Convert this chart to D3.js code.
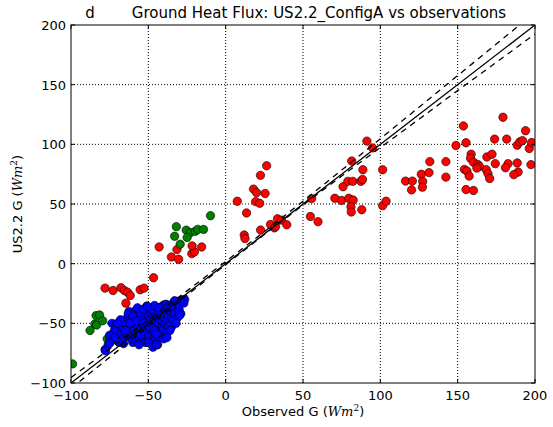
<!DOCTYPE html>
<html>
<head>
<meta charset="utf-8">
<script src="https://cdn.jsdelivr.net/npm/d3@7"></script>
<style>
  html, body { margin: 0; padding: 0; background: #fff; }
  svg { display: block; }
  text { font-family: "DejaVu Sans", sans-serif; fill: #000; }
</style>
</head>
<body>
<div id="chart"></div>
<script>
// values (W m^-2)
const redX = [-78, -72.8, -67.7, -65.5, -63.4, -61.7, -64.5, -55.3, -52.8, -46.6, -43, -35.1, -31.5, -30.4, -21.9, -20.2, -15.5, -21.7,
  7.5, 13.5, 12, 12.5, 18, 20, 22.5, 26.5, 25.5, 19.4, 22, 22.6, 29, 31.5, 33.5, 36.2, 39.5, 32.3, 54.8, 59.7, 55.6,
  70.6, 74.9, 79.6, 82.4, 81, 81.2, 88, 75.9, 79, 82.2, 87.4, 88.5, 88.7, 81.5, 91.3, 95, 101.5, 101.5, 103.7,
  116.3, 120.7, 120.2, 126.5, 127.4, 127.2, 131.5, 132, 142.4, 142.4, 148.9, 153.7, 155.4, 158.7, 158.3, 160.2,
  154.3, 156, 157.4, 155.4, 160.2, 163, 164.1, 162.4, 168.9, 172.2, 168.5, 169.6, 170.7, 173.9, 174.3, 179.3,
  181.7, 182.6, 180.9, 188.5, 190.2, 191.9, 193.9, 188.5, 189.1, 186.3, 196.3, 197.8, 197.4];
const redY = [-20.5, -22.5, -20.2, -22.5, -23.9, -26.7, -33.1, -21.9, -20.5, -11.8, 14, 5.6, 11.8, 3.7, 8.4, 9.8, 14, 14.9,
  52.3, 42.5, 24, 21, 62.5, 59.5, 74, 82, 58.8, 52, 50.6, 28.2, 32.8, 30, 37.6, 36.5, 32.6, 31.1, 39.5, 35.2, 54.5,
  54.8, 53, 54.8, 53.3, 47.7, 43.3, 45.2, 64.5, 69, 69, 69, 70.6, 78.7, 86, 102.7, 97, 78.7, 48.6, 52.3,
  69.2, 69.2, 61.8, 74.9, 68.9, 64.1, 76.3, 85.5, 85.5, 72.5, 99, 115.4, 101.3, 91.7, 88.3, 85,
  79, 77.6, 73.4, 62.1, 61.3, 83.2, 81.5, 80.1, 89.4, 91.7, 78.7, 75.4, 71.4, 104.4, 83.8, 122.7,
  104.4, 83.8, 80.4, 99.3, 102.1, 103.1, 111.4, 84.4, 76.8, 74.6, 96.5, 101.5, 83];

const greenX = [-99, -87.7, -84.6, -83.8, -81.5, -83.4, -79.5, -76.6, -75, -71,
  -31.9, -33, -29.4, -25.5, -22.8, -19.6, -18.1, -14.3, -24.9, -9.8];
const greenY = [-84, -56, -50.6, -43.5, -43, -51.4, -47.8, -63, -62.5, -63.6,
  31, 23, 16.3, 28.1, 26, 27.2, 28.7, 28.7, 22, 40.2];

const blueX = [-78, -74.5, -73.5, -71, -69, -67, -62.5, -58, -55, -51, -45, -41.5, -40, -38.5, -34, -31, -28.5, -26.5,
  -29, -45, -40.5, -48, -55.5, -66, -42, -35, -60, -63, -70, -68, -66, -64, -62, -61, -60, -59, -58, -57, -57, -56,
  -55, -55, -54, -54, -53, -53, -52, -52, -51, -51, -50, -50, -50, -49, -49, -48, -48, -47, -47, -46, -46, -45, -45,
  -44, -44, -43, -43, -42, -42, -41, -41, -40, -40, -39, -39, -38, -38, -37, -37, -36, -36, -35, -34, -34, -33, -32,
  -31, -30, -32, -36, -44, -52, -58, -64, -66, -68, -70, -72, -75, -63, -60, -57, -53, -48, -46, -43, -39, -37, -35,
  -30, -27, -33, -60, -56, -50, -47, -44, -40, -38, -58, -62, -65, -53, -49, -46, -45, -55, -61, -67, -69, -72, -76,
  -77.7, -74.9, -50.6, -44.7, -29.8];
const blueY = [-72, -65, -50, -51.5, -53.5, -55.5, -40, -39, -39.5, -35.5, -38, -36, -34.5, -34, -33, -32, -30.5, -30,
  -42, -67, -58.5, -61, -65.5, -67, -61, -53, -61, -58, -58, -60, -62, -52, -54, -47, -50, -56, -44, -52, -60, -47,
  -55, -43, -50, -58, -46, -62, -53, -41, -48, -57, -44, -51, -60, -47, -55, -42, -50, -57, -45, -52, -62, -48, -44,
  -55, -40, -50, -46, -58, -43, -52, -48, -45, -55, -42, -50, -47, -58, -44, -52, -40, -49, -45, -38, -47, -42, -36,
  -45, -39, -50, -56, -64, -66, -63, -46, -49, -47, -50, -56, -60, -42, -44, -37, -38, -38, -35, -37, -38, -36, -35,
  -35, -33, -31, -66, -68, -66, -70, -68, -63, -62, -48, -50, -56, -50, -53, -56, -59, -60, -63, -64, -66, -62, -68,
  -73, -66.6, -36, -68, -43.5];

// 1:1 line and the dashed band round the fit
const oneToOne = [-100, 200];
const bandX = [-100, -75, -50, -25, 0, 25, 50, 75, 100, 125, 150, 175, 200];
const bandUpper = [-95.5, -71.4, -47.2, -22.8, 1.8, 26.8, 52.4, 78.4, 104.7, 131.1, 157.6, 184.1, 210.5];
const bandLower = [-104.5, -78.4, -52.4, -26.4, -0.8, 24.4, 49.1, 73.4, 97.3, 121.1, 145, 168.7, 192.5];

const xTicks = [-100, -50, 0, 50, 100, 150, 200];
const yTicks = [-100, -50, 0, 50, 100, 150, 200];

const W = 553, H = 427;
const margin = {top: 25, right: 18, bottom: 44, left: 71};
const width = W - margin.left - margin.right;
const height = H - margin.top - margin.bottom;

const svg = d3.select('#chart').append('svg').attr('width', W).attr('height', H);
const g = svg.append('g').attr('transform', `translate(${margin.left},${margin.top})`);

const x = d3.scaleLinear().domain([-100, 200]).range([0, width]);
const y = d3.scaleLinear().domain([-100, 200]).range([height, 0]);

svg.append('defs').append('clipPath').attr('id', 'plotclip')
  .append('rect').attr('width', width).attr('height', height);

// dotted grid
const grid = g.append('g');
grid.selectAll('.gx').data(xTicks.slice(1, -1)).enter().append('line')
  .attr('x1', d => x(d)).attr('x2', d => x(d)).attr('y1', 0).attr('y2', height)
  .attr('stroke', '#000').attr('stroke-width', 1).attr('stroke-dasharray', '1,2');
grid.selectAll('.gy').data(yTicks.slice(1, -1)).enter().append('line')
  .attr('y1', d => y(d)).attr('y2', d => y(d)).attr('x1', 0).attr('x2', width)
  .attr('stroke', '#000').attr('stroke-width', 1).attr('stroke-dasharray', '1,2');

const plot = g.append('g').attr('clip-path', 'url(#plotclip)');

function scatter(xs, ys, colour) {
  plot.append('g').selectAll('circle').data(xs.map((v, i) => [v, ys[i]])).enter().append('circle')
    .attr('cx', d => x(d[0])).attr('cy', d => y(d[1])).attr('r', 4.2)
    .attr('fill', colour).attr('stroke', '#000').attr('stroke-width', 0.6);
}
scatter(redX, redY, '#ff0000');
scatter(greenX, greenY, '#008000');
scatter(blueX, blueY, '#0000ff');

const line = d3.line().x(d => x(d[0])).y(d => y(d[1]));
plot.append('path').datum(oneToOne.map(v => [v, v])).attr('d', line)
  .attr('fill', 'none').attr('stroke', '#000').attr('stroke-width', 1.3);
[bandUpper, bandLower].forEach(band => {
  plot.append('path').datum(bandX.map((v, i) => [v, band[i]])).attr('d', line)
    .attr('fill', 'none').attr('stroke', '#000').attr('stroke-width', 1.3).attr('stroke-dasharray', '6,5');
});

// frame with inward ticks on all sides
g.append('rect').attr('width', width).attr('height', height)
  .attr('fill', 'none').attr('stroke', '#000').attr('stroke-width', 1);
const tl = 4;
const ticks = g.append('g').attr('stroke', '#000').attr('stroke-width', 1);
xTicks.forEach(t => {
  ticks.append('line').attr('x1', x(t)).attr('x2', x(t)).attr('y1', height).attr('y2', height - tl);
  ticks.append('line').attr('x1', x(t)).attr('x2', x(t)).attr('y1', 0).attr('y2', tl);
});
yTicks.forEach(t => {
  ticks.append('line').attr('y1', y(t)).attr('y2', y(t)).attr('x1', 0).attr('x2', tl);
  ticks.append('line').attr('y1', y(t)).attr('y2', y(t)).attr('x1', width).attr('x2', width - tl);
});

const fmt = v => (v < 0 ? '\u2212' + Math.abs(v) : String(v));
g.selectAll('.xl').data(xTicks).enter().append('text')
  .attr('x', d => x(d)).attr('y', height + 17).attr('text-anchor', 'middle')
  .style('font-size', '13px').text(fmt);
g.selectAll('.yl').data(yTicks).enter().append('text')
  .attr('x', -5).attr('y', d => y(d) + 5).attr('text-anchor', 'end')
  .style('font-size', '13px').text(fmt);

// axis labels with mathtext-like units
function unitLabel(t, prefix) {
  t.append('tspan').text(prefix + ' (');
  t.append('tspan').style('font-family', '"DejaVu Serif", serif').style('font-style', 'italic').text('Wm');
  t.append('tspan').style('font-family', '"DejaVu Serif", serif').style('font-size', '9px').attr('dy', -5).text('2');
  t.append('tspan').attr('dy', 5).text(')');
}
unitLabel(svg.append('text').attr('x', margin.left + width / 2).attr('y', 416)
  .attr('text-anchor', 'middle').style('font-size', '13px'), 'Observed G');
unitLabel(svg.append('text').attr('transform', `translate(22,${margin.top + height / 2}) rotate(-90)`)
  .attr('text-anchor', 'middle').style('font-size', '13px'), 'US2.2 G');

svg.append('text').attr('x', 90).attr('y', 18).attr('text-anchor', 'middle')
  .style('font-size', '15px').text('d');
svg.append('text').attr('x', 319).attr('y', 18).attr('text-anchor', 'middle')
  .style('font-size', '15px').text('Ground Heat Flux: US2.2_ConfigA vs observations');
</script>
</body>
</html>
